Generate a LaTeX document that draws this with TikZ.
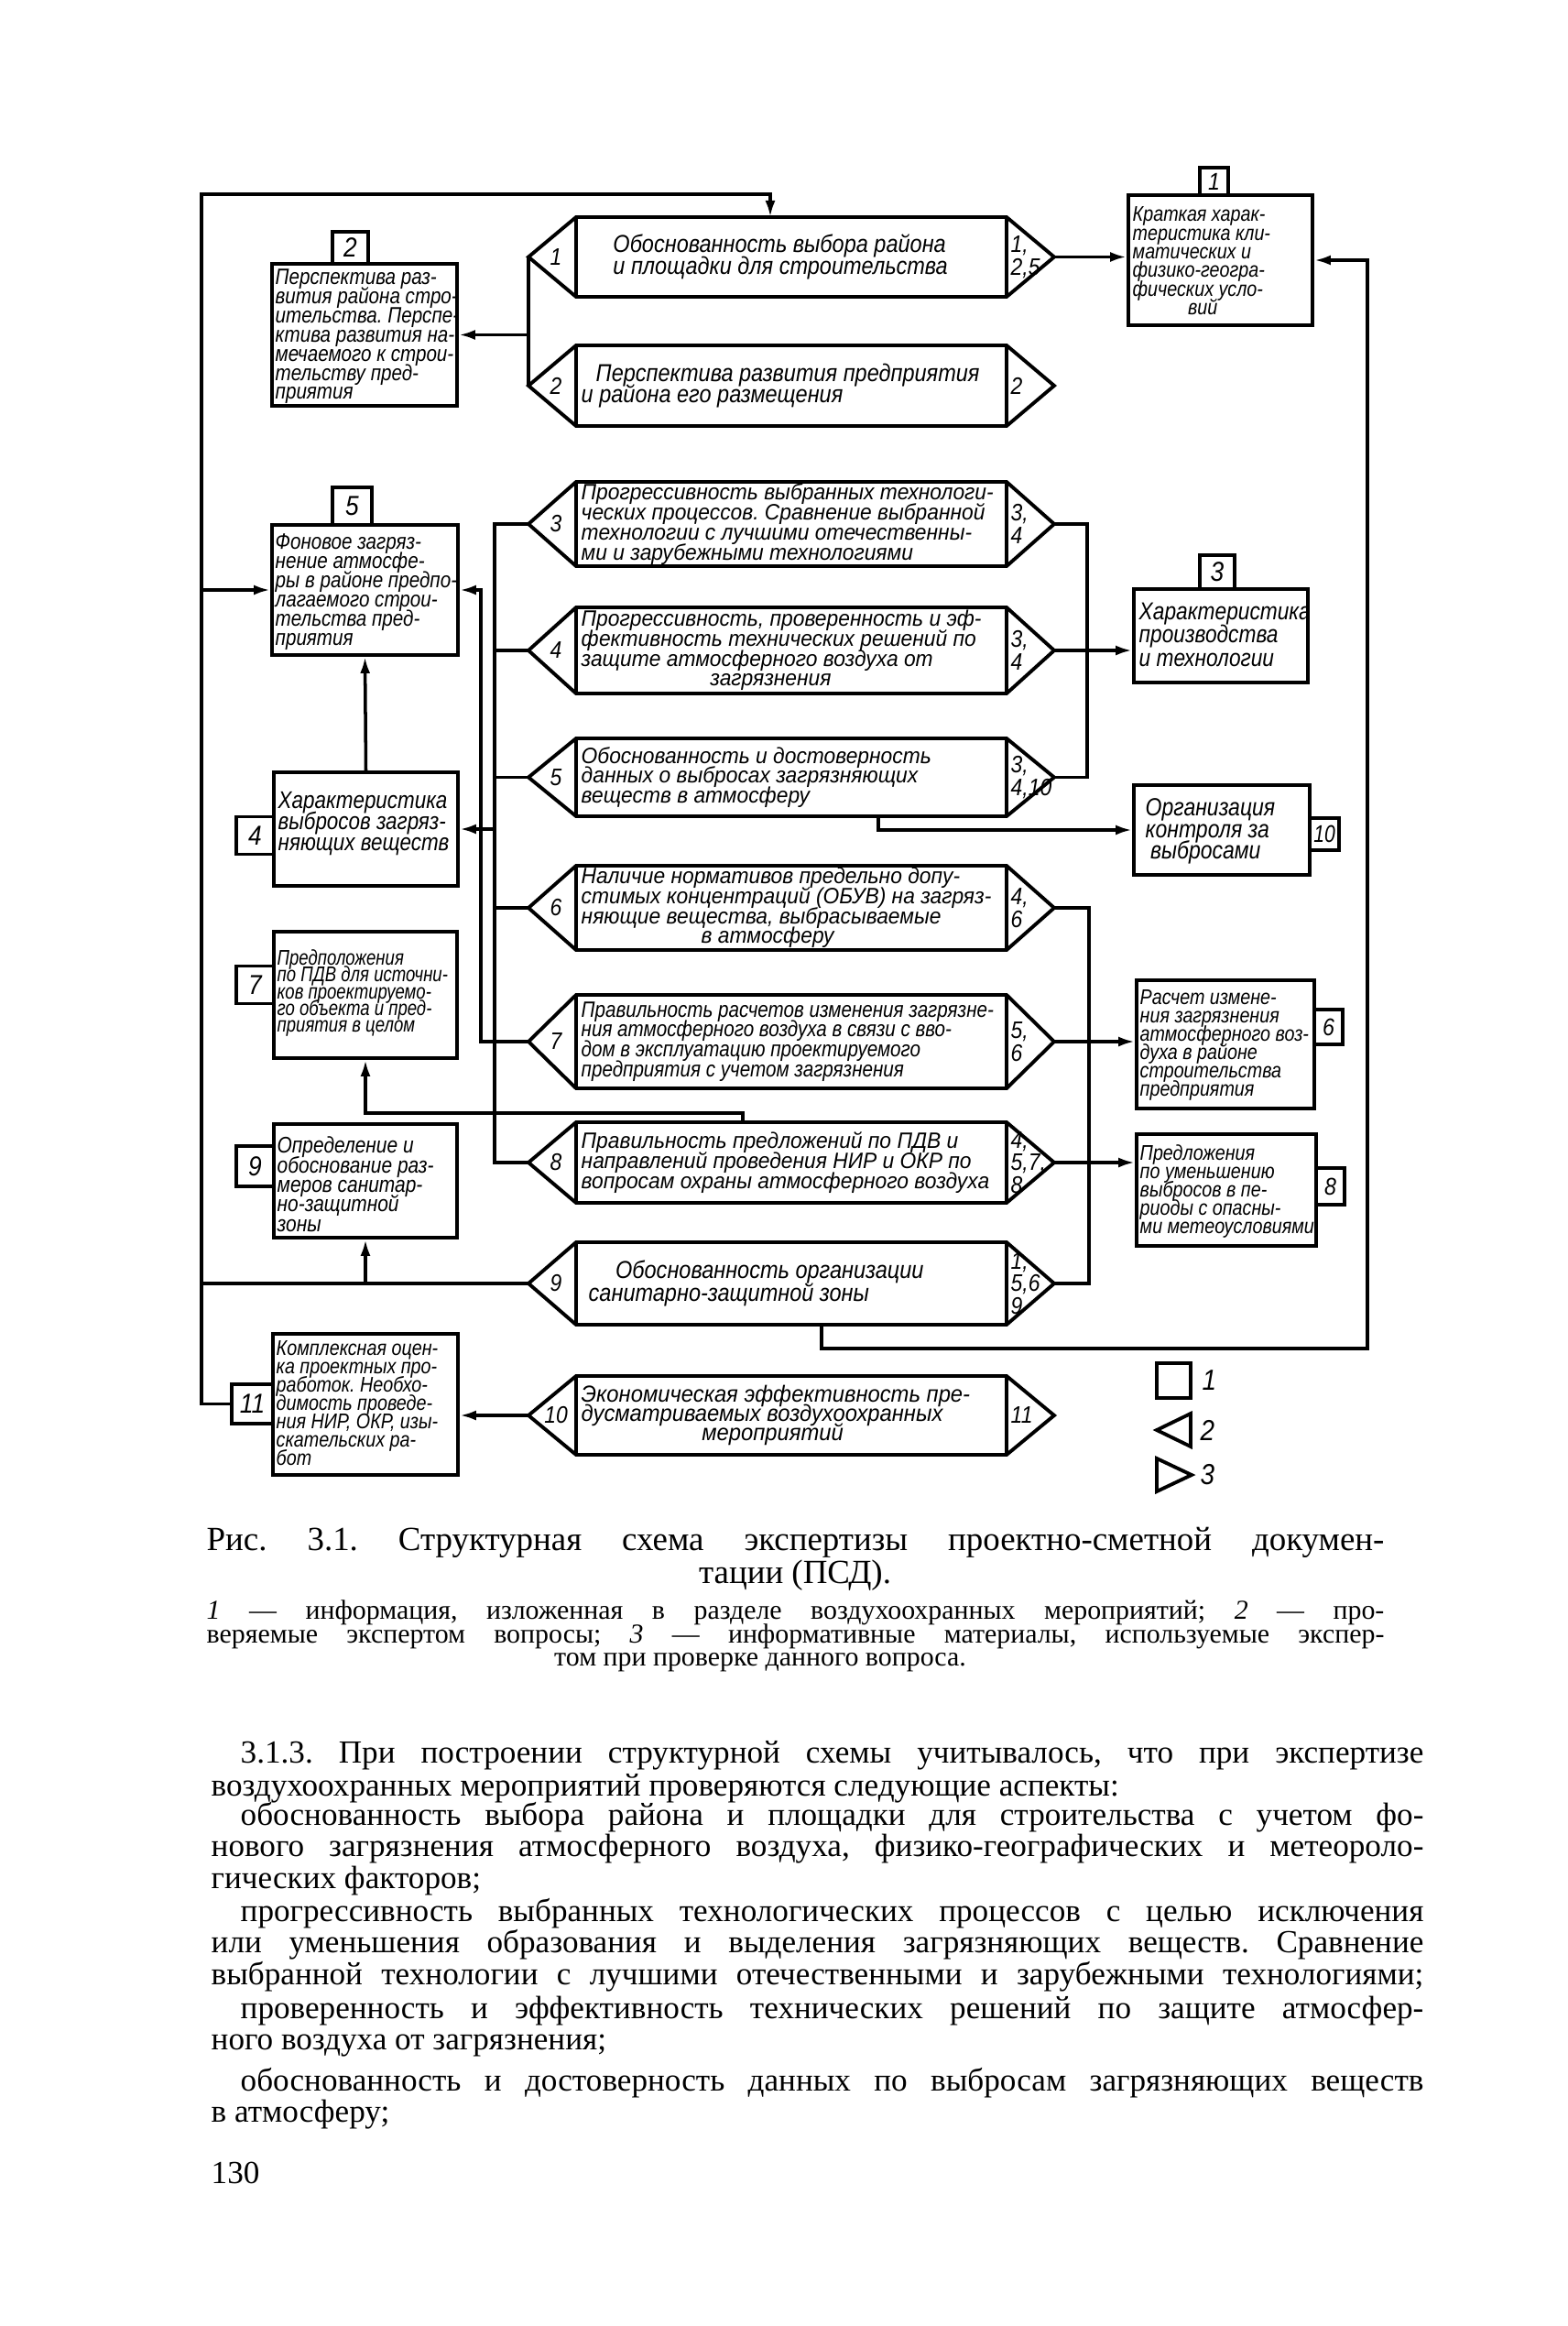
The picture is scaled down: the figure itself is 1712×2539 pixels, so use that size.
\documentclass[tikz,border=0pt]{standalone}
\usepackage{fontspec}
\setmainfont{Liberation Serif}
\newfontfamily\drawsans{Liberation Sans}[FakeStretch=0.88]
\newfontfamily\drawq{Liberation Sans}[FakeStretch=0.94]
\newfontfamily\drawbox{Liberation Sans}[FakeStretch=0.85]
\newfontfamily\drawnarrow{Liberation Sans}[FakeStretch=0.8]
\usetikzlibrary{arrows.meta,calc,fit}
\frenchspacing

% one question of the expert: box with a triangle on each side
\newcommand{\question}[7][]{%
  \pgfmathsetmacro{\ym}{(#3+#4)/2}
  \draw[box] (629,#3) -- (1099,#3) -- (1151,\ym) -- (1099,#4) -- (629,#4) -- (577,\ym) -- cycle;
  \draw[box] (629,#3) -- (629,#4) (1099,#3) -- (1099,#4);
  \coordinate (#2w) at (577,\ym);
  \coordinate (#2e) at (1151,\ym);
  \node[qnum] (#2l) at (607,\ym) {#5};
  \node[qnum,anchor=west] (#2r) at (1103,\ym) {#6};
  \node[qtext,#1] (#2) at (634,\ym) {#7};
}

\begin{document}
\setlength{\lineskiplimit}{-20pt}
\begin{tikzpicture}[x=0.01cm,y=-0.01cm,
  box/.style={line width=1.1pt},
  link/.style={line width=1pt},
  arr/.style={link,-{Latex[length=1.8mm,width=1.1mm]}},
  ibox/.style={draw,line width=1.1pt,inner sep=0pt},
  tag/.style={draw,line width=1.1pt,inner sep=0pt,minimum width=0.41cm,minimum height=0.41cm,font=\drawsans\itshape\fontsize{8.5}{8.5}\selectfont},
  smalltag/.style={tag,minimum width=0.31cm,minimum height=0.34cm,font=\drawsans\itshape\fontsize{7.5}{7.5}\selectfont},
  itext/.style={anchor=north west,inner sep=0pt,align=left,font=\drawbox\itshape\fontsize{6.9}{5.95}\selectfont},
  qtext/.style={anchor=west,inner sep=0pt,align=left,font=\drawq\itshape\fontsize{6.9}{6.2}\selectfont},
  bigq/.style={font=\drawsans\itshape\fontsize{7.6}{6.7}\selectfont},
  qnum/.style={inner sep=0pt,align=left,font=\drawsans\itshape\fontsize{7.4}{7}\selectfont},
  legtext/.style={inner sep=0pt,font=\drawsans\itshape\fontsize{9}{9}\selectfont},
  body/.style={inner sep=0pt,font=\fontsize{10}{12}\selectfont}]
\useasboundingbox (0,0) rectangle (1712,2539);

% questions
\question[bigq]{q1}{237}{324}{1}{1,\\2,5}{\hspace*{1.3em}Обоснованность выбора района\\\hspace*{1.3em}и площадки для строительства}
\question[bigq]{q2}{377}{465}{2}{2}{\hspace*{0.6em}Перспектива развития предприятия\\и района его размещения}
\question{q3}{526}{618}{3}{3,\\4}{Прогрессивность выбранных технологи-\\ческих процессов. Сравнение выбранной\\технологии с лучшими отечественны-\\ми и зарубежными технологиями}
\question{q4}{663}{757}{4}{3,\\4}{Прогрессивность, проверенность и эф-\\фективность технических решений по\\защите атмосферного воздуха от\\\hspace*{5.8em}загрязнения}
\question{q5}{806}{891}{5}{3,\\4,10}{Обоснованность и достоверность\\данных о выбросах загрязняющих\\веществ в атмосферу}
\question{q6}{945}{1037}{6}{4,\\6}{Наличие нормативов предельно допу-\\стимых концентраций (ОБУВ) на загряз-\\няющие вещества, выбрасываемые\\\hspace*{5.4em}в атмосферу}
\question[font=\drawbox\itshape\fontsize{6.9}{6.2}\selectfont]{q7}{1086}{1188}{7}{5,\\6}{Правильность расчетов изменения загрязне-\\ния атмосферного воздуха в связи с вво-\\дом в эксплуатацию проектируемого\\предприятия с учетом загрязнения}
\question{q8}{1225}{1313}{8}{4,\\5,7,\\8}{Правильность предложений по ПДВ и\\направлений проведения НИР и ОКР по\\вопросам охраны атмосферного воздуха}
\question[font=\drawsans\itshape\fontsize{7.6}{7.2}\selectfont]{q9}{1356}{1446}{9}{1,\\5,6\\9}{\hspace*{1.4em}Обоснованность организации\\\hspace*{0.3em}санитарно-защитной зоны}
\question[font=\drawq\itshape\fontsize{7.2}{6}\selectfont]{q10}{1502}{1588}{10}{11}{Экономическая эффективность пре-\\дусматриваемых воздухоохранных\\\hspace*{5.2em}мероприятий}

% information boxes and their numbers
\node[ibox,fit={(1232,213)(1433,355)}] (b1) {};
\node[ibox,fit={(297,288)(499,443)}] (b2) {};
\node[ibox,fit={(1238,643)(1428,745)}] (b3) {};
\node[ibox,fit={(299,843)(500,967)}] (b4) {};
\node[ibox,fit={(297,573)(500,715)}] (b5) {};
\node[ibox,fit={(1241,1070)(1435,1210)}] (b6) {};
\node[ibox,fit={(299,1017)(499,1155)}] (b7) {};
\node[ibox,fit={(1241,1238)(1437,1360)}] (b8) {};
\node[ibox,fit={(299,1227)(499,1351)}] (b9) {};
\node[ibox,fit={(1238,857)(1430,955)}] (b10) {};
\node[ibox,fit={(298,1456)(500,1610)}] (b11) {};
\node[smalltag,minimum height=0.30cm] (t1) at (1325.5,198) {1};
\node[tag,minimum width=0.39cm,minimum height=0.35cm] (t2) at (382.5,270.5) {2};
\node[tag,minimum width=0.38cm,minimum height=0.37cm] (t3) at (1329,624.5) {3};
\node[tag] (t4) at (278.5,912) {4};
\node[tag,minimum width=0.43cm] (t5) at (384.5,552.5) {5};
\node[smalltag,minimum height=0.38cm] (t6) at (1450.5,1121) {6};
\node[tag] (t7) at (278.5,1075) {7};
\node[smalltag,minimum height=0.40cm] (t8) at (1452.5,1295) {8};
\node[tag,minimum height=0.44cm] (t9) at (278.5,1273) {9};
\node[smalltag,minimum width=0.32cm,minimum height=0.35cm,font=\drawnarrow\itshape\fontsize{7.5}{7.5}\selectfont] (t10) at (1446,910.5) {10};
\node[tag,minimum width=0.45cm,minimum height=0.43cm] (t11) at (275.5,1532.5) {11};

\node[itext,font=\drawbox\itshape\fontsize{6.6}{5.8}\selectfont] (b1t) at (1236,225) {Краткая харак-\\теристика кли-\\матических и\\физико-геогра-\\фических усло-\\\hspace*{2.6em}вий};
\node[itext] (b2t) at (300,293) {Перспектива раз-\\вития района стро-\\ительства. Перспе-\\ктива развития на-\\мечаемого к строи-\\тельству пред-\\приятия};
\node[itext,font=\drawbox\itshape\fontsize{7.6}{7.25}\selectfont] (b3t) at (1243,657) {Характеристика\\производства\\и технологии};
\node[itext,font=\drawbox\itshape\fontsize{7.5}{6.55}\selectfont] (b4t) at (303,864) {Характеристика\\выбросов загряз-\\няющих веществ};
\node[itext] (b5t) at (300,582) {Фоновое загряз-\\нение атмосфе-\\ры в районе предпо-\\лагаемого строи-\\тельства пред-\\приятия};
\node[itext,font=\drawbox\itshape\fontsize{6.6}{5.7}\selectfont] (b6t) at (1244,1080) {Расчет измене-\\ния загрязнения\\атмосферного воз-\\духа в районе\\строительства\\предприятия};
\node[itext,font=\drawnarrow\itshape\fontsize{6.6}{5.2}\selectfont] (b7t) at (302,1036) {Предположения\\по ПДВ для источни-\\ков проектируемо-\\го объекта и пред-\\приятия в целом};
\node[itext,font=\drawbox\itshape\fontsize{6.6}{5.7}\selectfont] (b8t) at (1244,1249) {Предложения\\по уменьшению\\выбросов в пе-\\риоды с опасны-\\ми метеоусловиями};
\node[itext,font=\drawbox\itshape\fontsize{7}{6.1}\selectfont] (b9t) at (302,1240) {Определение и\\обоснование раз-\\меров санитар-\\но-защитной\\зоны};
\node[itext,font=\drawbox\itshape\fontsize{7.7}{6.7}\selectfont] (b10t) at (1250,871) {Организация\\контроля за\\\hspace*{0.2em}выбросами};
\node[itext,font=\drawbox\itshape\fontsize{6.6}{5.7}\selectfont] (b11t) at (301,1463) {Комплексная оцен-\\ка проектных про-\\работок. Необхо-\\димость проведе-\\ния НИР, ОКР, изы-\\скательских ра-\\бот};

% left loop
\coordinate (lbus) at (220,212);
\coordinate (q1in) at (841,237);
\draw[arr] (t11.west) -| (lbus) -| (q1in);
\draw[arr] (b5.west -| lbus) -- (b5.west);
\draw[link] (q9w) -- (q9w -| lbus);
\draw[arr] (b9.south |- q9w) -- (b9.south);

% first two questions
\draw[link] (q1w) -- (q2w);
\draw[arr] (q1w |- b2.east) -- (b2.east);
\draw[arr] (q1e) -- (q1e -| b1.west);

% right loop
\coordinate (q9out) at (897,1446);
\coordinate (rbus) at (1493,1472);
\draw[arr] (q9out) |- (rbus) |- (b1.east);

% left bus of questions 3-8
\coordinate (busL) at (540,0);
\coordinate (j5) at (525,0);
\draw[link] (q3w) -- ++(-37,0) |- (q8w);
\foreach \q in {q4,q5,q6}
  \draw[link] (\q w) -- ++(-37,0);
\draw[arr] (b4.east -| busL) -- (b4.east);
\draw[arr] (q7w) -| (b5.east -| j5) -- (b5.east);
\draw[arr] (b4.north) -- (b5.south);
\coordinate (q8top) at (811,1225);
\draw[arr] (q8top) |- ($(b7.south)+(0,58)$) -- (b7.south);

% right side
\draw[link] (q3e) -- ++(36,0) |- (q5e);
\draw[arr] (q4e) -- (q4e -| b3.west);
\coordinate (q5out) at (959,891);
\draw[arr] (q5out) |- (b10.west);
\draw[link] (q6e) -- ++(38,0) |- (q9e);
\draw[arr] (q7e) -- (q7e -| b6.west);
\draw[arr] (q8e) -- (q8e -| b8.west);
\draw[arr] (q10w) -- (q10w -| b11.east);

% legend
\node[ibox,fit={(1263,1488)(1300,1526)}] (leg1) {};
\node[legtext,anchor=west] (leg1t) at (1312,1507) {1};
\draw[box] (1300,1543) -- (1263,1561) -- (1300,1579) -- cycle;
\node[legtext,anchor=west] (leg2t) at (1310,1561) {2};
\draw[box] (1263,1592) -- (1301,1610) -- (1263,1628) -- cycle;
\node[legtext,anchor=west] (leg3t) at (1310,1610) {3};

% caption
\node[body,anchor=base west,font=\fontsize{10.5}{13}\selectfont] (cap1) at (225,1692) {\makebox[12.85cm][s]{Рис. 3.1. Структурная схема экспертизы проектно-сметной докумен-}};
\node[body,anchor=base,font=\fontsize{10.5}{13}\selectfont] (cap2) at (868,1728) {тации (ПСД).};
\node[body,anchor=base west,font=\fontsize{8.5}{10}\selectfont] (cap3) at (225,1767) {\makebox[12.85cm][s]{\textit{1} — информация, изложенная в разделе воздухоохранных мероприятий; \textit{2} — про-}};
\node[body,anchor=base west,font=\fontsize{8.5}{10}\selectfont] (cap4) at (225,1793) {\makebox[12.85cm][s]{веряемые экспертом вопросы; \textit{3} — информативные материалы, используемые экспер-}};
\node[body,anchor=base,font=\fontsize{8.5}{10}\selectfont] (cap5) at (830,1818) {том при проверке данного вопроса.};

% text of the page
\foreach \x/\y/\w/\t [count=\i] in {
  262/1924/12.91/{3.1.3. При построении структурной схемы учитывалось, что при экспертизе},
  262/1992/12.91/{обоснованность выбора района и площадки для строительства с учетом фо-},
  230/2026/13.23/{нового загрязнения атмосферного воздуха, физико-географических и метеороло-},
  262/2097/12.91/{прогрессивность выбранных технологических процессов с целью исключения},
  230/2131/13.23/{или уменьшения образования и выделения загрязняющих веществ. Сравнение},
  230/2166/13.23/{выбранной технологии с лучшими отечественными и зарубежными технологиями;},
  262/2203/12.91/{проверенность и эффективность технических решений по защите атмосфер-},
  262/2282/12.91/{обоснованность и достоверность данных по выбросам загрязняющих веществ}}
  \node[body,anchor=base west] (line\i) at (\x,\y) {\makebox[\w cm][s]{\t}};
\foreach \y/\t [count=\i] in {
  1960/{воздухоохранных мероприятий проверяются следующие аспекты:},
  2061/{гических факторов;},
  2237/{ного воздуха от загрязнения;},
  2316/{в атмосферу;}}
  \node[body,anchor=base west] (end\i) at (230,\y) {\t};
\node[body,anchor=base west] (pageno) at (230,2383) {130};
\end{tikzpicture}
\end{document}
